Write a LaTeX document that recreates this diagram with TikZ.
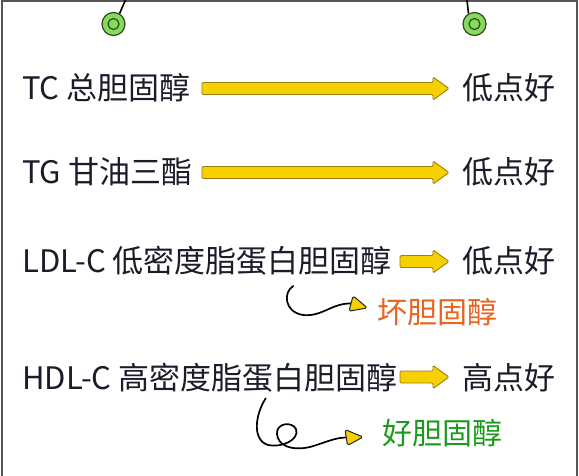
\documentclass[tikz,border=0pt]{standalone}
\usepackage{fontspec}
\setmainfont{Noto Sans CJK SC}
\definecolor{ink}{HTML}{1B1B2A}
\definecolor{frame}{HTML}{555555}
\definecolor{yfill}{HTML}{F7D000}
\definecolor{yline}{HTML}{9C7F10}
\definecolor{gfill}{HTML}{86DB5C}
\definecolor{gline}{HTML}{2E4A20}
\definecolor{bad}{HTML}{E8641E}
\definecolor{good}{HTML}{1C9A1C}
\tikzset{
  lbl/.style={anchor=base west, inner sep=0pt, font=\fontsize{31}{31}\selectfont, text=ink},
  sublbl/.style={lbl, font=\fontsize{30}{30}\selectfont},
  yarr/.style={fill=yfill, draw=yline, line width=0.9pt, rounded corners=1.2pt},
  curly/.style={line width=1.7pt, draw=black, line cap=round},
  tri/.style={fill=yfill, draw=black!85, line width=1pt, line join=round, rounded corners=1.8pt},
  grommet/.style={circle, draw=gline, fill=gfill, line width=1.2pt, minimum size=23pt, inner sep=0pt},
  ring/.style={circle, draw=gline, line width=1.2pt, minimum size=11pt, inner sep=0pt},
}
\newcommand\yblock[3]{%
  \draw[yarr] (#1,#3-6) -- ({#2-16},#3-6) -- ({#2-16},#3-11.5) -- (#2,#3)
    -- ({#2-16},#3+11.5) -- ({#2-16},#3+6) -- (#1,#3+6) -- cycle;}
\begin{document}
\begin{tikzpicture}[x=1pt,y=-1pt]
\useasboundingbox (0,0) rectangle (579,475);
\fill[white] (0,0) rectangle (579,475);
% frame
\draw[frame, line width=2pt] (2,476) -- (2,1) -- (577,1) -- (577,476);
% grommets
\coordinate (hl) at (125.5,0);
\coordinate (hr) at (467,0);
\node[grommet] (g1) at (113.5,24) {};
\node[grommet] (g2) at (474.5,24) {};
\node[ring] at (g1) {};
\node[ring] at (g2) {};
\draw[line width=1.6pt] (g1.60) -- (hl);
\draw[line width=1.6pt] (g2.120) -- (hr);
% labels
\node[lbl] (l1) at (22,99.5) {TC 总胆固醇};
\node[lbl] (l2) at (22,183.5) {TG 甘油三酯};
\node[lbl] (l3) at (22,272.5) {LDL-C 低密度脂蛋白胆固醇};
\node[lbl] (l4) at (22,389) {HDL-C 高密度脂蛋白胆固醇};
\node[lbl] (r1) at (462,99.5) {低点好};
\node[lbl] (r2) at (462,183.5) {低点好};
\node[lbl] (r3) at (462,272.5) {低点好};
\node[lbl] (r4) at (462,389) {高点好};
\node[sublbl, text=bad] (bad) at (377,323.5) {坏胆固醇};
\node[sublbl, text=good] (good) at (382,444.5) {好胆固醇};
% block arrows
\yblock{202}{449}{88.5}
\yblock{202}{449}{172.5}
\yblock{400}{449}{261.5}
\yblock{400}{449}{377}
% curly arrows
\coordinate (c3s) at (293.3,286);
\coordinate (c3e) at (351,303.5);
\coordinate (c4s) at (265.7,398.3);
\coordinate (c4e) at (346,437.5);
\draw[curly] (c3s) .. controls (283,292) and (284,312) .. (303,315)
  .. controls (322,317) and (332,303) .. (c3e);
\draw[curly] (c4s) .. controls (255,415) and (252,440) .. (268,445)
  .. controls (281,448) and (300,440) .. (296,429)
  .. controls (292,421) and (276,423) .. (277,434)
  .. controls (278,446) and (292,451) .. (310,447)
  .. controls (324,443) and (335,437.5) .. (c4e);
\draw[tri] (353.1,295.8) -- (367.4,307.9) -- (348.9,311.2) -- cycle;
\draw[tri] (345,429.5) -- (363,437) -- (347.5,445.5) -- cycle;
\end{tikzpicture}
\end{document}
